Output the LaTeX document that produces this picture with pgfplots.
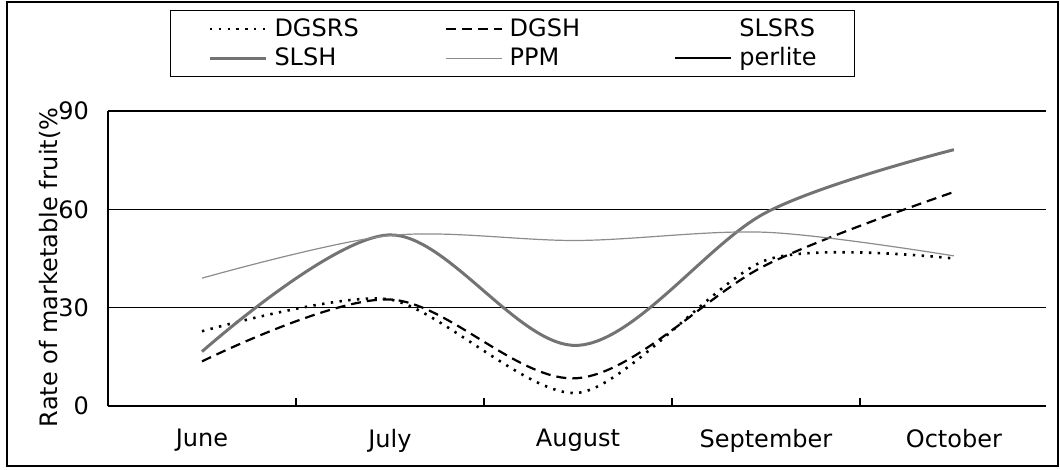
\documentclass[border=0pt]{standalone}
\usepackage{fontspec}
\setmainfont{DejaVu Sans}
\usepackage{pgfplots}
\usepackage{pgfplotstable}
\pgfplotsset{compat=1.18}

\pgfplotstableread{
x DGSRS DGSH SLSH PPM
0 22.8 13.6 16.6 39
1 32.5 32.5 52.2 52
2 4.0 8.5 18.5 50.5
3 44.5 43.0 59.0 53
4 45.0 65.3 78.2 45.8
}\data

\begin{document}
\begin{tikzpicture}
\path (-54pt,-32pt) rectangle (476pt,203pt);
\draw[line width=0.6pt] (-50.5pt,-30pt) rectangle (475pt,202pt);
\begin{axis}[
  at={(0,0)}, anchor=south west,
  scale only axis, width=469pt, height=147.5pt,
  xmin=-0.5, xmax=4.49, ymin=0, ymax=90,
  axis x line*=bottom, axis y line*=left,
  axis line style={line width=0.6pt},
  xtick={0,1,2,3,4},
  xticklabels={June,July,August,September,October},
  major x tick style={draw=none},
  extra x ticks={0.5,1.5,2.5,3.5},
  extra x tick labels={,,,},
  extra x tick style={major tick length=4pt, tick align=inside, major x tick style={draw=black,line width=0.6pt}},
  ytick={0,30,60,90},
  ytick style={draw=none},
  ymajorgrids,
  major grid style={black, line width=0.6pt},
  /pgf/number format/assume math mode=true,
  xticklabel style={yshift=-8pt, font=\fontsize{12}{14}\selectfont},
  yticklabel style={xshift=-6pt, font=\fontsize{12}{14}\selectfont},
  ylabel={\fontsize{12}{14}\selectfont Rate of marketable fruit(\%},
  ylabel style={at={(axis description cs:-0.062,0.47)}, anchor=center},
  clip=false,
  legend columns=3,
  legend cell align=left,
  legend image code/.code={\draw[#1] (0pt,0pt) -- (28pt,0pt);},
  legend style={
    at={(axis description cs:0.066,1.342)}, anchor=north west,
    draw=black, line width=0.6pt,
    inner xsep=19pt, inner ysep=4pt, row sep=4pt,
    font=\fontsize{12}{14}\selectfont,
    nodes={inner xsep=0pt, inner ysep=0pt},
    /tikz/every odd column/.append style={column sep=3.5pt},
    /tikz/column 2/.style={column sep=42.9pt},
    /tikz/column 4/.style={column sep=47.3pt},
  },
]
\addplot[black, line width=1.3pt, dash pattern=on 1.2pt off 3.2pt, smooth, tension=0.45] table[x=x,y=DGSRS]{\data};
\addlegendentry{DGSRS}
\addplot[black, line width=1.1pt, dash pattern=on 5pt off 3pt, smooth, tension=0.55] table[x=x,y=DGSH]{\data};
\addlegendentry{DGSH}
\addlegendimage{legend image code/.code={}}
\addlegendentry{SLSRS}
\addplot[black!55, line width=1.5pt, smooth, tension=0.55] table[x=x,y=SLSH]{\data};
\addlegendentry{SLSH}
\addplot[black!45, line width=0.6pt, smooth, tension=0.55] table[x=x,y=PPM]{\data};
\addlegendentry{PPM}
\addlegendimage{black, line width=0.8pt}
\addlegendentry{perlite}
\end{axis}
\end{tikzpicture}
\end{document}
